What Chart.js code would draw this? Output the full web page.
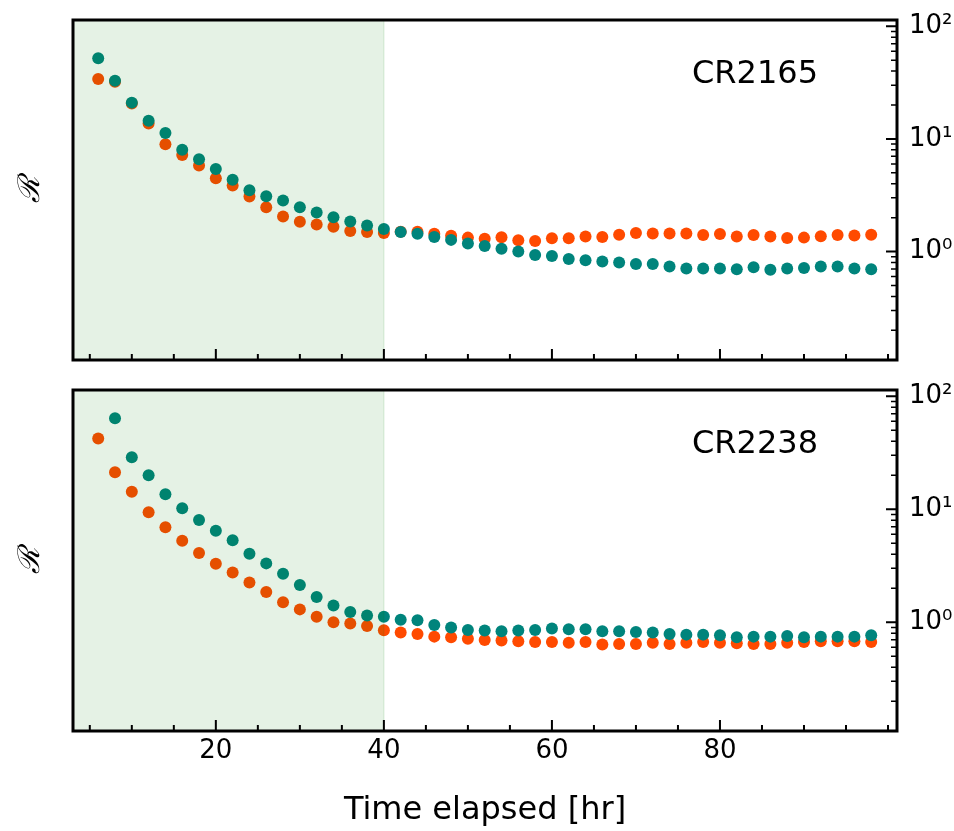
<!DOCTYPE html>
<html>
<head>
<meta charset="utf-8">
<script src="https://cdn.jsdelivr.net/npm/chart.js@4.4.1/dist/chart.umd.min.js"></script>
<style>
  html, body { margin: 0; padding: 0; background: #fff; width: 954px; height: 831px; overflow: hidden; }
  canvas { position: absolute; left: 0; }
</style>
</head>
<body>
<canvas id="chart-top" width="954" height="370" style="top:0"></canvas>
<canvas id="chart-bottom" width="954" height="461" style="top:370px"></canvas>
<script>
// time axis (hours)
const hours = [6, 8, 10, 12, 14, 16, 18, 20, 22, 24, 26, 28, 30, 32, 34, 36, 38, 40,
    42, 44, 46, 48, 50, 52, 54, 56, 58, 60, 62, 64, 66, 68, 70, 72, 74, 76, 78, 80,
    82, 84, 86, 88, 90, 92, 94, 96, 98];

// CR2165
const cr2165Teal = [52, 32.9, 21, 14.5, 11.3, 8.0, 6.6, 5.4, 4.35, 3.5, 3.1, 2.84, 2.48, 2.22, 2.02, 1.85, 1.70, 1.59,
    1.49, 1.44, 1.35, 1.27, 1.18, 1.12, 1.06, 1.0, 0.934, 0.915, 0.86, 0.838, 0.815, 0.80, 0.777, 0.777, 0.736, 0.706, 0.706, 0.706,
    0.697, 0.726, 0.688, 0.706, 0.716, 0.736, 0.736, 0.706, 0.697];
const cr2165Orange = [34, 32.2, 20.6, 13.7, 8.97, 7.2, 5.8, 4.48, 3.85, 3.08, 2.48, 2.05, 1.84, 1.74, 1.66, 1.52, 1.49, 1.46,
    1.50, 1.50, 1.44, 1.38, 1.33, 1.30, 1.34, 1.26, 1.24, 1.31, 1.31, 1.36, 1.35, 1.41, 1.46, 1.45, 1.45, 1.45, 1.40, 1.43,
    1.36, 1.40, 1.36, 1.32, 1.33, 1.37, 1.40, 1.39, 1.41];

// CR2238
const cr2238Teal = [null, 63.8, 28.9, 20.0, 13.6, 10.2, 8.04, 6.47, 5.31, 4.04, 3.32, 2.69, 2.14, 1.67, 1.41, 1.23, 1.15, 1.12,
    1.05, 1.04, 0.947, 0.897, 0.855, 0.844, 0.832, 0.844, 0.855, 0.879, 0.867, 0.867, 0.832, 0.832, 0.82, 0.81, 0.788, 0.777, 0.777, 0.767,
    0.736, 0.746, 0.746, 0.756, 0.736, 0.746, 0.746, 0.746, 0.767];
const cr2238Orange = [42.4, 21.3, 14.3, 9.4, 6.92, 5.27, 4.10, 3.29, 2.76, 2.25, 1.85, 1.50, 1.30, 1.12, 1.0, 0.973, 0.928, 0.85,
    0.81, 0.788, 0.746, 0.736, 0.716, 0.697, 0.688, 0.678, 0.669, 0.669, 0.66, 0.669, 0.634, 0.642, 0.642, 0.66, 0.642, 0.66, 0.669, 0.66,
    0.651, 0.642, 0.642, 0.66, 0.669, 0.678, 0.678, 0.678, 0.669];

const shadeEnd = 40;  // end of the shaded window [hr]

const xMajorTicks = [20, 40, 60, 80];
const xMinorTicks = [5, 10, 15, 25, 30, 35, 45, 50, 55, 65, 70, 75, 85, 90, 95, 100];
const yMajorTicks = [1, 10, 100];
const yMajorLabels = ['10⁰', '10¹', '10²'];
const yMinorTicks = [0.2, 0.3, 0.4, 0.5, 0.6, 0.7, 0.8, 0.9, 2, 3, 4, 5, 6, 7, 8, 9, 20, 30, 40, 50, 60, 70, 80, 90];

const TEAL = '#00847C';
const ORANGE = '#FF4A00';
const FONT = 'DejaVu Sans';

function toPoints(values) {
    return hours.map((h, i) => ({ x: h, y: values[i] }));
}

function decorPlugin(label) {
    return {
        id: 'decor',
        afterDatasetsDraw(chart) {
            const { ctx, chartArea: a, scales: { x, y } } = chart;
            ctx.save();

            // shaded window, drawn over the points like axvspan
            const xs = x.getPixelForValue(shadeEnd);
            ctx.fillStyle = 'rgba(0,128,0,0.1)';
            ctx.fillRect(a.left, a.top, xs - a.left, a.bottom - a.top);
            ctx.strokeStyle = 'rgba(0,128,0,0.1)';
            ctx.lineWidth = 1.5;
            ctx.beginPath();
            ctx.moveTo(xs, a.top);
            ctx.lineTo(xs, a.bottom);
            ctx.stroke();

            // inward ticks
            ctx.strokeStyle = '#000';
            ctx.lineWidth = 2;
            ctx.beginPath();
            xMajorTicks.forEach(v => {
                const px = x.getPixelForValue(v);
                ctx.moveTo(px, a.bottom);
                ctx.lineTo(px, a.bottom - 11);
            });
            xMinorTicks.forEach(v => {
                const px = x.getPixelForValue(v);
                ctx.moveTo(px, a.bottom);
                ctx.lineTo(px, a.bottom - 6);
            });
            yMajorTicks.forEach(v => {
                const py = y.getPixelForValue(v);
                ctx.moveTo(a.right, py);
                ctx.lineTo(a.right - 11, py);
            });
            ctx.stroke();
            ctx.lineWidth = 1.5;
            ctx.beginPath();
            yMinorTicks.forEach(v => {
                const py = y.getPixelForValue(v);
                if (py < a.top || py > a.bottom) return;
                ctx.moveTo(a.right, py);
                ctx.lineTo(a.right - 6, py);
            });
            ctx.stroke();

            // frame
            ctx.lineWidth = 3;
            ctx.strokeRect(a.left, a.top, a.right - a.left, a.bottom - a.top);

            // panel name
            ctx.fillStyle = '#000';
            ctx.font = '32px "' + FONT + '"';
            ctx.textBaseline = 'middle';
            ctx.textAlign = 'left';
            ctx.fillText(label, 692, a.top + 55);

            // y label on the left
            ctx.translate(31, (a.top + a.bottom) / 2);
            ctx.rotate(-Math.PI / 2);
            ctx.textAlign = 'center';
            ctx.font = 'italic 30px "DejaVu Serif"';
            ctx.fillText('ℛ', 0, 0);
            ctx.restore();
        }
    };
}

function makePanel(canvasId, label, tealValues, orangeValues, showX) {
    const ctx = document.getElementById(canvasId).getContext('2d');
    return new Chart(ctx, {
        type: 'scatter',
        data: {
            datasets: [
                { label: 'teal', data: toPoints(tealValues), backgroundColor: TEAL, borderWidth: 0, pointRadius: 6, order: 0 },
                { label: 'orange', data: toPoints(orangeValues), backgroundColor: ORANGE, borderWidth: 0, pointRadius: 6, order: 1 }
            ]
        },
        options: {
            responsive: false,
            animation: false,
            events: [],
            layout: { padding: { left: 73, top: 20, right: 0, bottom: showX ? 0 : 10 } },
            plugins: { legend: { display: false }, tooltip: { enabled: false } },
            scales: {
                x: {
                    type: 'linear',
                    min: 3,
                    max: 101.07,
                    display: showX,
                    grid: { display: false, drawTicks: false },
                    border: { display: false },
                    afterBuildTicks: scale => { scale.ticks = xMajorTicks.map(v => ({ value: v })); },
                    afterFit: scale => {
                        scale.height = showX ? 100 : 0;
                        scale.paddingLeft = 0;
                        scale.paddingRight = 0;
                    },
                    ticks: { color: '#000', font: { family: FONT, size: 26 }, padding: 5, maxRotation: 0 },
                    title: {
                        display: true,
                        text: 'Time elapsed [hr]',
                        color: '#000',
                        font: { family: FONT, size: 32 },
                        padding: { top: 0, bottom: 1 }
                    }
                },
                y: {
                    type: 'logarithmic',
                    position: 'right',
                    min: 0.109,
                    max: 113.7,
                    grid: { display: false, drawTicks: false },
                    border: { display: false },
                    afterBuildTicks: scale => { scale.ticks = yMajorTicks.map(v => ({ value: v })); },
                    afterFit: scale => {
                        scale.width = 57;
                        scale.paddingTop = 0;
                        scale.paddingBottom = 0;
                    },
                    ticks: {
                        color: '#000',
                        font: { family: FONT, size: 26 },
                        padding: 12,
                        callback: v => yMajorLabels[yMajorTicks.indexOf(v)] || ''
                    }
                }
            }
        },
        plugins: [decorPlugin(label)]
    });
}

makePanel('chart-top', 'CR2165', cr2165Teal, cr2165Orange, false);
makePanel('chart-bottom', 'CR2238', cr2238Teal, cr2238Orange, true);
</script>
</body>
</html>
